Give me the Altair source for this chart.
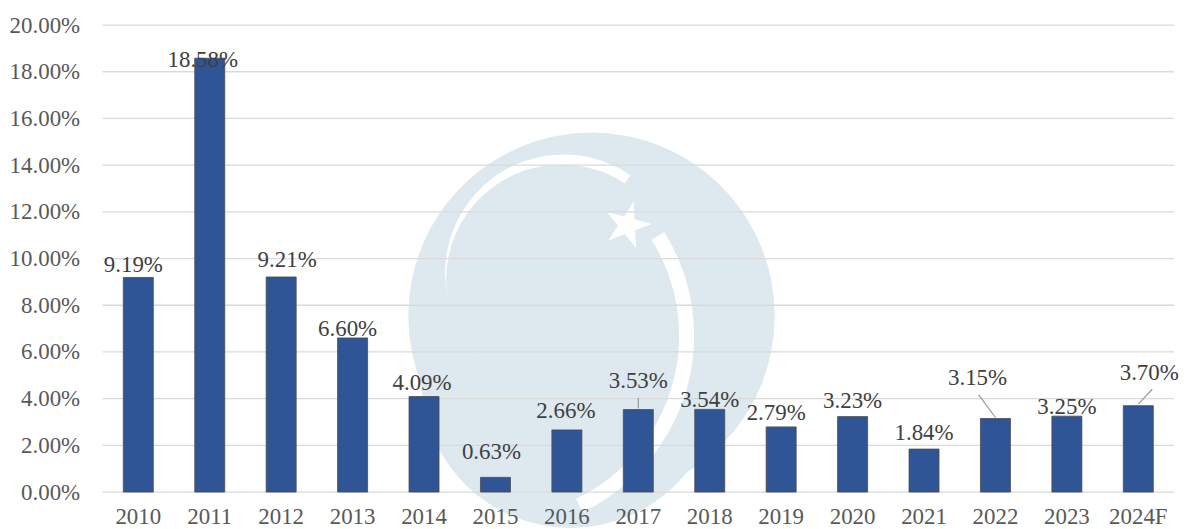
import altair as alt
import pandas as pd

# ---- data ----
years = ["2010", "2011", "2012", "2013", "2014", "2015", "2016", "2017",
         "2018", "2019", "2020", "2021", "2022", "2023", "2024F"]
values = [9.19, 18.58, 9.21, 6.60, 4.09, 0.63, 2.66, 3.53,
          3.54, 2.79, 3.23, 1.84, 3.15, 3.25, 3.70]
tick_values = [0, 0.02, 0.04, 0.06, 0.08, 0.10, 0.12, 0.14, 0.16, 0.18, 0.20]

df = pd.DataFrame({"year": years, "v": [x / 100 for x in values]})
ticks_df = pd.DataFrame({"t": tick_values})
one = pd.DataFrame({"k": [0]})

# ---- label placement (style: pixel offsets relative to bar top) ----
label_dx = {"2010": -5, "2011": -7, "2012": 6, "2013": -5, "2014": -2, "2015": -4,
            "2016": -1, "2019": -5, "2022": -18, "2024F": 11}
label_gap = {"2010": 5.5, "2011": -8.5, "2012": 9.6, "2013": 1.8, "2014": 6.7,
             "2015": 18.5, "2016": 11.6, "2017": 22, "2018": 2, "2019": 7,
             "2020": 8.3, "2021": 9, "2022": 34, "2023": 2, "2024F": 26}
leaders = {"2017": (0, -1, 0, -12), "2022": (0, -1, -17, -24), "2024F": (0, -1.5, 14, -16.5)}

FONT = "Liberation Serif, Times New Roman, Times, DejaVu Serif, serif"
BAR = "#2F5597"
WM = "#dde8ef"

xscale = alt.Scale(domain=years, paddingInner=0.58, paddingOuter=0.29)
yscale = alt.Scale(domain=[0, 0.2], nice=False)

X = alt.X("year:N", sort=years, scale=xscale,
          axis=alt.Axis(labelAngle=0, ticks=False, domain=False, grid=False,
                        labelPadding=14, title=None, zindex=1))
Y = alt.Y("v:Q", scale=yscale,
          axis=alt.Axis(values=tick_values, format=".2%", grid=False, domain=False,
                        ticks=False, labelPadding=23, title=None, zindex=1))

# ---- watermark (decoration) ----
wm_outer = alt.Chart(one).mark_arc(radius=184, theta=0, theta2=6.2832, color=WM).encode(
    x=alt.value(491), y=alt.value(292))
wm_tail = alt.Chart(one).mark_arc(radius=150, theta=0, theta2=6.2832, color=WM).encode(
    x=alt.value(470), y=alt.value(355))
wm_gap = alt.Chart(one).mark_arc(radius=119, theta=3.843, theta2=6.883, color="white").encode(
    x=alt.value(463), y=alt.value(249))
wm_inner = alt.Chart(one).mark_arc(radius=116, theta=0, theta2=6.2832, color=WM).encode(
    x=alt.value(461), y=alt.value(256))
wm_swoosh = alt.Chart(one).mark_arc(radius=196, radius2=181, theta=1.01, theta2=2.7,
                                    color="white").encode(
    x=alt.value(398), y=alt.value(312))
star_path = ("M0,-1L0.2245,-0.309L0.951,-0.309L0.363,0.118L0.588,0.809L0,0.382"
             "L-0.588,0.809L-0.363,0.118L-0.951,-0.309L-0.2245,-0.309Z")
wm_star = alt.Chart(one).mark_point(shape=star_path, size=2400, filled=True, color="white",
                                    opacity=1, angle=15).encode(
    x=alt.value(527), y=alt.value(201))

# ---- grid ----
grid = alt.Chart(ticks_df).mark_rule(color="#d9d9d9", strokeWidth=1.3).encode(
    y=alt.Y("t:Q", scale=yscale,
            axis=alt.Axis(values=tick_values, format=".2%", grid=False, domain=False,
                          ticks=False, labelPadding=23, title=None, zindex=1)))

# ---- bars ----
bars = alt.Chart(df).mark_bar(color=BAR, stroke="#4a4a4a", strokeWidth=0.8).encode(x=X, y=Y)

layers = [wm_outer, wm_tail, wm_gap, wm_inner, wm_swoosh, wm_star, grid, bars]

# ---- leader lines ----
for yr, (x1, y1, x2, y2) in leaders.items():
    layers.append(
        alt.Chart(df).transform_filter(alt.datum.year == yr).mark_rule(
            color="#999999", strokeWidth=1.2,
            xOffset=x1, yOffset=y1, x2Offset=x2, y2Offset=y2).encode(
            x=alt.X("year:N", sort=years, scale=xscale, bandPosition=0.5),
            x2=alt.X2("year", bandPosition=0.5),
            y=alt.Y("v:Q", scale=yscale),
            y2=alt.Y2("v")))

# ---- value labels ----
for yr in years:
    layers.append(
        alt.Chart(df).transform_filter(alt.datum.year == yr).mark_text(
            font=FONT, fontSize=23, color="#404040", baseline="alphabetic",
            dx=label_dx.get(yr, 0), dy=-label_gap.get(yr, 0)).encode(
            x=X, y=Y, text=alt.Text("v:Q", format=".2%")))

chart = alt.layer(*layers).properties(
    width=1076, height=469,
    autosize=alt.AutoSizeParams(type="none"),
    padding={"left": 95, "top": 16, "right": 6, "bottom": 36},
    background="white",
).configure_view(stroke=None).configure_axis(
    labelFont=FONT, labelFontSize=23, labelColor="#595959"
)

chart.save("out.html", embed_options={"renderer": "svg", "actions": False})
